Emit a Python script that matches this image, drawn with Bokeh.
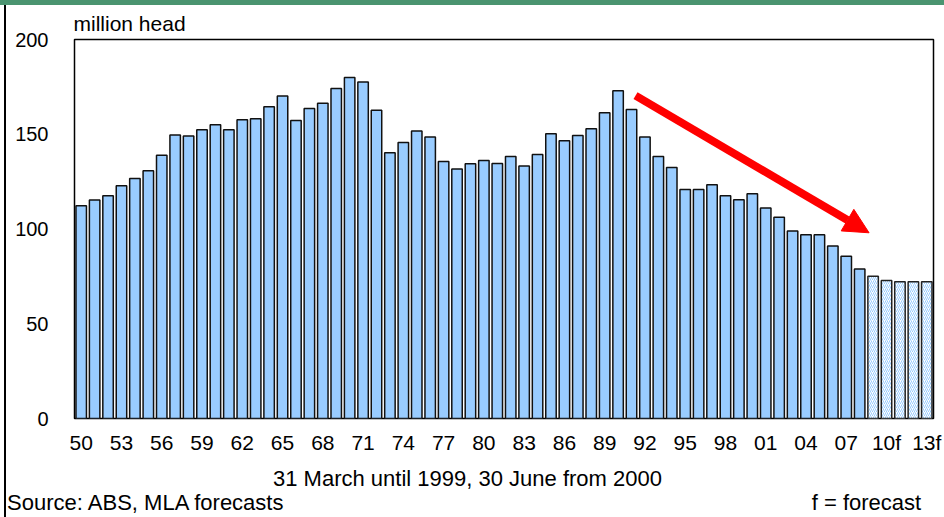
from bokeh.plotting import figure
from bokeh.models import (Arrow, NormalHead, FixedTicker, Range1d, ColumnDataSource,
                          LinearAxis)
from bokeh.embed import file_html
from bokeh.resources import INLINE

years = list(range(1950, 2014))
values = [112.3, 115.3, 117.6, 122.8, 126.7, 130.7, 138.9, 149.6, 149.1, 152.4,
          155.0, 152.4, 157.6, 158.2, 164.5, 170.2, 157.3, 163.6, 166.4, 174.1,
          179.9, 177.6, 162.7, 140.3, 145.6, 151.7, 148.6, 135.6, 131.6, 134.4,
          136.1, 134.5, 138.2, 133.3, 139.3, 150.3, 146.6, 149.4, 152.9, 161.3,
          173.0, 163.0, 148.5, 138.2, 132.5, 120.9, 120.9, 123.4, 117.6, 115.5,
          118.6, 111.1, 106.2, 99.0, 97.0, 97.0, 91.0, 85.6, 78.9, 75.1,
          72.8, 72.1, 72.1, 72.1]
first_forecast_year = 2009
tick_years = list(range(1950, 2014, 3))
tick_labels = ["50", "53", "56", "59", "62", "65", "68", "71", "74", "77", "80",
               "83", "86", "89", "92", "95", "98", "01", "04", "07", "10f", "13f"]
y_ticks = [0, 50, 100, 150, 200]
unit_text = "million head"
date_note = "31 March until 1999, 30 June from 2000"
source_text = "Source: ABS, MLA forecasts"
forecast_note = "f = forecast"

FONT = "Liberation Sans"

act = ColumnDataSource(dict(x=[y for y in years if y < first_forecast_year],
                            top=[v for y, v in zip(years, values) if y < first_forecast_year]))
fc = ColumnDataSource(dict(x=[y for y in years if y >= first_forecast_year],
                           top=[v for y, v in zip(years, values) if y >= first_forecast_year]))

W, H = 944, 517
FRAME_W = 859
p = figure(width=W, height=H, output_backend="svg", toolbar_location=None,
           x_range=Range1d(1949.5, 2013.5), y_range=Range1d(0, 200),
           min_border_left=74, min_border_right=W - 74 - FRAME_W,
           min_border_top=39, min_border_bottom=97)
# slide decoration: green band along the top, black rule down the left side
p.styles = {"background": "linear-gradient(#4a9470,#4a9470) 0 0 / 100% 5px no-repeat, "
                          "linear-gradient(#000,#000) 4px 5px / 2px 100% no-repeat, #ffffff"}
p.border_fill_alpha = 0
p.background_fill_color = "white"

p.vbar(x="x", top="top", width=0.78, source=act, fill_color="#99ccff",
       line_color="#111111", line_width=1.5)
p.vbar(x="x", top="top", width=0.78, source=fc, fill_color="white",
       hatch_pattern="/", hatch_color="#99ccff", hatch_scale=4, hatch_weight=1,
       line_color="#222222", line_width=1.5)

p.grid.visible = False
p.outline_line_color = "black"
p.outline_line_width = 1.5

p.title.text = unit_text
p.title.align = "left"
p.title.offset = -1
p.title.standoff = 10
p.title.text_font = FONT
p.title.text_font_size = "21px"
p.title.text_font_style = "normal"
p.title.text_color = "black"

def style_axis(ax, size):
    ax.axis_line_color = None
    ax.major_tick_line_color = None
    ax.minor_tick_line_color = None
    ax.major_tick_out = 0
    ax.major_tick_in = 0
    ax.major_label_text_font = FONT
    ax.major_label_text_font_size = size
    ax.major_label_text_color = "black"

xax = p.below[0]
xax.ticker = FixedTicker(ticks=tick_years)
xax.major_label_overrides = {y: l for y, l in zip(tick_years, tick_labels)}
style_axis(xax, "21px")
xax.major_label_standoff = 12

yax = p.left[0]
yax.ticker = FixedTicker(ticks=y_ticks)
style_axis(yax, "20px")
yax.major_label_standoff = 26

# extra text rows below the year axis, positioned in frame pixels
p.extra_x_ranges = {"px": Range1d(0, FRAME_W)}
ax2 = LinearAxis(x_range_name="px", ticker=FixedTicker(ticks=[393]),
                 major_label_overrides={393: date_note})
style_axis(ax2, "22px")
ax2.major_label_standoff = 9
p.add_layout(ax2, "below")

ax3 = LinearAxis(x_range_name="px", ticker=FixedTicker(ticks=[72, 792]),
                 major_label_overrides={72: source_text, 792: forecast_note})
style_axis(ax3, "22px")
ax3.major_label_standoff = -4
p.add_layout(ax3, "below")

p.add_layout(Arrow(end=NormalHead(size=25, fill_color="red", line_color="red"),
                   x_start=1991.3, y_start=170.4, x_end=2008.7, y_end=98.0,
                   line_color="red", line_width=8))

open("out.html", "w").write(file_html(p, INLINE))
